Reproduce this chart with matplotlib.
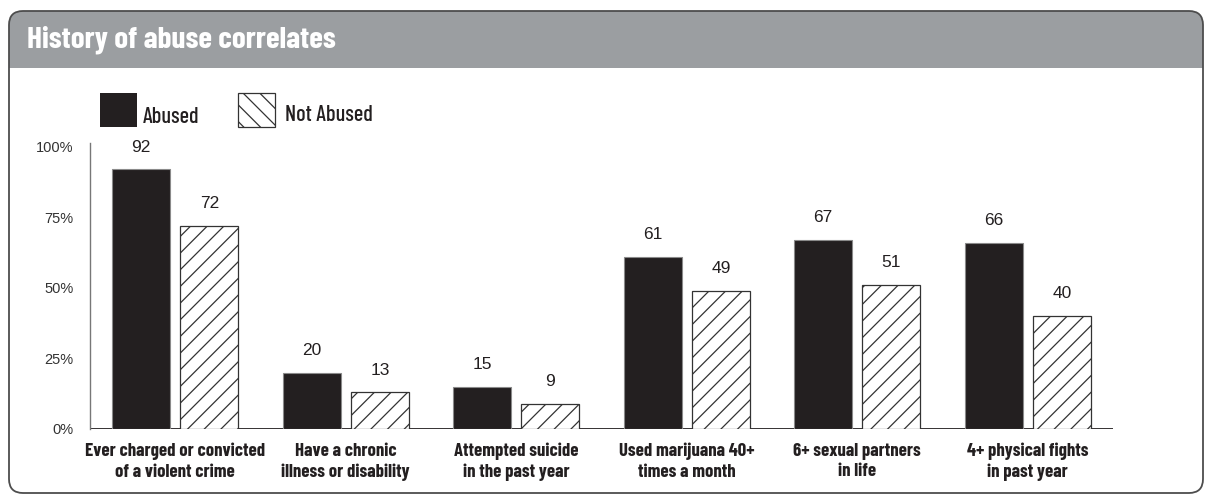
import numpy as np
import matplotlib.pyplot as plt
from matplotlib.patches import Rectangle, FancyBboxPatch

categories = ['Ever charged or convicted\nof a violent crime',
              'Have a chronic\nillness or disability',
              'Attempted suicide\nin the past year',
              'Used marijuana 40+\ntimes a month',
              '6+ sexual partners\nin life',
              '4+ physical fights\nin past year']
abused = [92, 20, 15, 61, 67, 66]
not_abused = [72, 13, 9, 49, 51, 40]
y_ticks = [0, 25, 50, 75, 100]
y_tick_labels = ['0%', '25%', '50%', '75%', '100%']

# condensed gothic look; DejaVu Sans Condensed as the fallback
narrow = ['Barlow Condensed', 'DejaVu Sans']
plain = ['Liberation Sans', 'DejaVu Sans']
black = '#231f20'

plt.rcParams['hatch.linewidth'] = 0.9

W, H = 1206, 495
fig = plt.figure(figsize=(W / 100, H / 100), dpi=100)

# frame and grey header band, in pixel coords
bg = fig.add_axes([0, 0, 1, 1], zorder=0)
bg.set_xlim(0, W)
bg.set_ylim(H, 0)
bg.axis('off')
frame = FancyBboxPatch((9, 11), 1194, 482, boxstyle='round,pad=0,rounding_size=14',
                       fc='white', ec='none')
bg.add_patch(frame)
band = Rectangle((9, 11), 1194, 57, fc='#9b9ea1', ec='none')
bg.add_patch(band)
band.set_clip_path(frame)
bg.add_patch(FancyBboxPatch((9, 11), 1194, 482, boxstyle='round,pad=0,rounding_size=14',
                            fc='none', ec='#4d4d4d', lw=1.3))
bg.text(27, 40, 'History of abuse correlates', color='white', fontsize=22.5,
        fontweight='bold', family=narrow, fontstretch='condensed', ha='left', va='center')

# legend
bg.add_patch(Rectangle((100, 93), 37, 34, fc=black, ec='none'))
bg.add_patch(Rectangle((238, 93), 37, 34, fc='white', ec='#333333', lw=0.9, hatch='\\\\'))
bg.text(143, 117, 'Abused', fontsize=16, family=narrow, fontweight='medium',
        fontstretch='condensed', color=black, ha='left', va='center')
bg.text(285, 115, 'Not Abused', fontsize=16, family=narrow, fontweight='medium',
        fontstretch='condensed', color=black, ha='left', va='center')

# bars
ax = fig.add_axes([90 / W, 1 - 429 / H, (1113 - 90) / W, (429 - 142.7) / H], zorder=1)
ax.patch.set_alpha(0)
x = np.arange(len(categories))
w = 0.34
ax.axhline(0, color=black, lw=2, zorder=1)
b1 = ax.bar(x - 0.2, abused, w, color=black, edgecolor='#8a8a8a', lw=0.8, zorder=2)
b2 = ax.bar(x + 0.2, not_abused, w, color='white', edgecolor='#333333', lw=0.9,
            hatch='//', zorder=2)

for bars, vals in [(b1, abused), (b2, not_abused)]:
    for bar, v in zip(bars, vals):
        ax.annotate(str(v), (bar.get_x() + bar.get_width() / 2, v), xytext=(0, 16),
                    textcoords='offset points', ha='center', va='center',
                    fontsize=12.5, family=plain, color=black)

ax.set_xlim(-0.5, 5.5)
ax.set_ylim(0, 101.5)
ax.set_yticks(y_ticks)
ax.set_yticklabels(y_tick_labels, family=plain, fontsize=10.5, color='#333333')
ax.set_xticks(x)
ax.set_xticklabels(categories, family=narrow, fontweight='bold', fontsize=13.5,
                   fontstretch='condensed', color=black, linespacing=1.25)
ax.tick_params(axis='y', length=0, pad=12)
ax.tick_params(axis='x', length=0, pad=10)
for s in ['top', 'right', 'bottom']:
    ax.spines[s].set_visible(False)
ax.spines['left'].set_color('#777777')
ax.spines['left'].set_linewidth(1)

fig.savefig('out.png', dpi=100)
